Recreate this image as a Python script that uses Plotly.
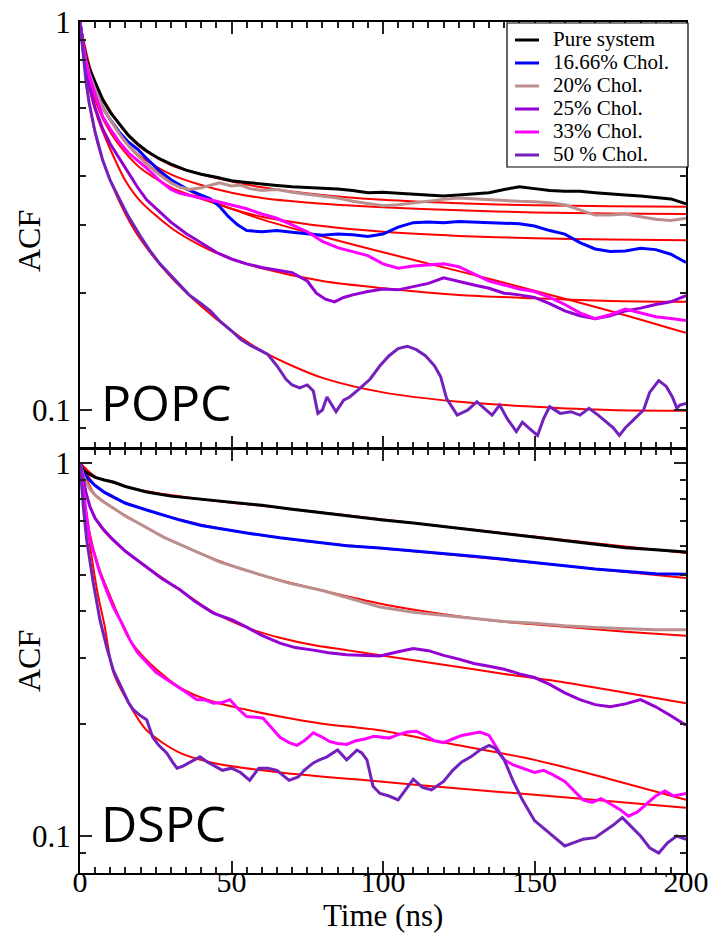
import math
import plotly.graph_objects as go

# ---------------- DATA (time in ns, ACF) ----------------
series_names = ["Pure system", "16.66% Chol.", "20% Chol.", "25% Chol.", "33% Chol.", "50 % Chol."]
series_colors = ["#000000", "#0000ff", "#bc8f8f", "#9400d3", "#ff00ff", "#7221bc"]
fit_color = "#ff0000"

x_ticks = [0, 50, 100, 150, 200]
y_ticks = [0.1, 1]
y_tick_text = ["0.1", "1"]
y_minor = [0.08, 0.09, 0.2, 0.3, 0.4, 0.5, 0.6, 0.7, 0.8, 0.9]

# POPC (top panel) data
popc_pure = [[0,1.0],[1,0.88],[2,0.81],[3,0.76],[5,0.70],[7.5,0.63],[10,0.585],[13,0.545],[16,0.51],[19,0.485],[22,0.465],[26,0.445],[30,0.43],[35,0.415],[40,0.405],[45,0.398],[50,0.39],[55,0.386],[60,0.382],[65,0.379],[70,0.376],[75,0.375],[80,0.373],[85,0.371],[90,0.368],[95,0.363],[100,0.364],[105,0.362],[110,0.36],[115,0.358],[120,0.356],[125,0.358],[130,0.36],[135,0.363],[140,0.37],[145,0.376],[150,0.372],[155,0.368],[160,0.366],[165,0.366],[170,0.363],[175,0.36],[180,0.358],[185,0.356],[190,0.353],[195,0.35],[200,0.34]]
popc_c16 = [[0,1.0],[1,0.87],[2,0.79],[3,0.74],[5,0.67],[7.5,0.6],[10,0.56],[13,0.52],[16,0.49],[19,0.47],[22,0.445],[26,0.415],[30,0.392],[35,0.372],[40,0.358],[43,0.35],[46,0.335],[49,0.315],[52,0.3],[55,0.29],[60,0.288],[65,0.29],[70,0.287],[75,0.285],[80,0.282],[85,0.284],[90,0.283],[95,0.28],[100,0.284],[105,0.296],[110,0.304],[115,0.305],[120,0.304],[125,0.306],[130,0.305],[135,0.303],[140,0.302],[145,0.302],[150,0.298],[155,0.29],[160,0.284],[165,0.27],[170,0.26],[175,0.256],[180,0.257],[185,0.261],[190,0.259],[195,0.252],[200,0.24]]
popc_c20 = [[0,1.0],[1,0.87],[2,0.79],[3,0.74],[5,0.67],[7.5,0.6],[10,0.56],[13,0.515],[16,0.48],[19,0.455],[22,0.43],[26,0.405],[30,0.385],[33,0.375],[36,0.37],[40,0.374],[43,0.38],[46,0.385],[50,0.378],[53,0.38],[56,0.372],[60,0.368],[65,0.37],[70,0.364],[75,0.36],[80,0.356],[85,0.352],[90,0.345],[95,0.34],[100,0.336],[105,0.338],[110,0.342],[115,0.346],[120,0.349],[125,0.352],[130,0.35],[135,0.348],[140,0.346],[145,0.345],[150,0.344],[155,0.342],[160,0.338],[165,0.328],[170,0.318],[175,0.318],[180,0.32],[185,0.315],[190,0.31],[195,0.308],[200,0.312]]
popc_c25 = [[0,1.0],[1,0.85],[2,0.76],[3,0.69],[5,0.6],[7.5,0.53],[10,0.485],[13,0.445],[16,0.41],[19,0.375],[22,0.348],[26,0.325],[30,0.305],[35,0.285],[40,0.27],[45,0.255],[50,0.245],[55,0.238],[60,0.233],[65,0.229],[70,0.226],[75,0.215],[78,0.2],[81,0.193],[84,0.19],[87,0.195],[90,0.198],[95,0.202],[100,0.205],[105,0.204],[110,0.208],[115,0.212],[120,0.219],[125,0.214],[130,0.21],[135,0.206],[140,0.2],[145,0.198],[150,0.195],[155,0.188],[160,0.18],[165,0.175],[170,0.172],[175,0.175],[180,0.18],[185,0.183],[190,0.187],[195,0.19],[200,0.197]]
popc_c33 = [[0,1.0],[1,0.87],[2,0.79],[3,0.73],[5,0.65],[7.5,0.57],[10,0.53],[13,0.49],[16,0.46],[19,0.44],[22,0.42],[26,0.392],[30,0.37],[33,0.362],[36,0.357],[40,0.352],[45,0.345],[50,0.338],[55,0.33],[60,0.32],[65,0.312],[70,0.3],[75,0.288],[80,0.272],[85,0.262],[90,0.256],[95,0.25],[100,0.238],[105,0.232],[110,0.235],[115,0.236],[120,0.238],[125,0.234],[130,0.224],[135,0.215],[140,0.21],[145,0.205],[150,0.202],[155,0.195],[160,0.187],[165,0.178],[170,0.172],[175,0.176],[180,0.182],[185,0.178],[190,0.174],[195,0.172],[200,0.17]]
popc_c50 = [[0,1.0],[1,0.82],[2,0.7],[3,0.62],[5,0.52],[7.5,0.44],[10,0.39],[13,0.35],[16,0.315],[20,0.28],[23,0.258],[26,0.24],[30,0.222],[33,0.21],[36,0.198],[40,0.188],[43,0.18],[46,0.17],[50,0.16],[53,0.152],[56,0.147],[59,0.143],[62,0.139],[65,0.13],[68,0.12],[70,0.116],[72.5,0.114],[75,0.116],[77,0.112],[78.5,0.098],[80,0.1],[81.5,0.108],[83,0.103],[84.5,0.099],[87,0.106],[89,0.108],[92,0.113],[95.7,0.12],[99,0.13],[102,0.138],[105,0.144],[108,0.146],[111,0.143],[114,0.138],[117,0.13],[119,0.122],[121,0.107],[124.5,0.097],[128,0.1],[131,0.105],[134,0.1],[136,0.097],[138.5,0.103],[141,0.095],[144,0.088],[146,0.093],[148,0.09],[151,0.086],[153,0.095],[155,0.102],[158.5,0.098],[162,0.099],[165,0.097],[168,0.101],[171,0.097],[174,0.093],[176,0.09],[178,0.086],[180,0.09],[182.5,0.094],[186,0.1],[188,0.111],[191,0.119],[193.5,0.115],[195.5,0.108],[197,0.101],[198,0.103],[200,0.104]]

# POPC fits
popc_fit_pure = [[0,1.0],[3,0.78],[6,0.67],[10,0.59],[15,0.52],[20,0.475],[30,0.428],[40,0.405],[50,0.388],[60,0.375],[80,0.358],[100,0.348],[125,0.341],[150,0.337],[175,0.335],[200,0.334]]
popc_fit_c16 = [[0,1.0],[3,0.75],[6,0.64],[10,0.56],[15,0.49],[20,0.445],[30,0.39],[40,0.355],[50,0.33],[60,0.315],[80,0.298],[100,0.288],[125,0.281],[150,0.277],[175,0.275],[200,0.274]]
popc_fit_c20 = [[0,1.0],[3,0.75],[6,0.64],[10,0.56],[15,0.49],[20,0.45],[30,0.405],[40,0.38],[50,0.363],[60,0.352],[80,0.34],[100,0.333],[125,0.327],[150,0.323],[175,0.321],[200,0.32]]
popc_fit_c25 = [[0,1.0],[3,0.68],[6,0.56],[10,0.47],[15,0.39],[20,0.345],[30,0.295],[40,0.265],[50,0.245],[60,0.232],[80,0.215],[100,0.206],[125,0.198],[150,0.194],[175,0.191],[200,0.19]]
popc_fit_c33 = [[0,1.0],[3,0.72],[6,0.6],[10,0.52],[15,0.46],[20,0.42],[30,0.375],[40,0.35],[50,0.33],[60,0.31],[80,0.28],[100,0.255],[125,0.228],[150,0.203],[175,0.18],[200,0.158]]
popc_fit_c50 = [[0,1.0],[3,0.62],[6,0.48],[10,0.39],[15,0.32],[20,0.275],[30,0.22],[40,0.185],[50,0.16],[60,0.142],[70,0.13],[80,0.121],[100,0.111],[125,0.105],[150,0.102],[175,0.1],[200,0.0995]]

# DSPC (bottom panel) data
dspc_pure = [[0,1.0],[1,0.96],[2,0.945],[3,0.935],[5,0.915],[8,0.9],[11,0.889],[15,0.865],[22,0.836],[30,0.815],[40,0.8],[50,0.785],[60,0.77],[70,0.752],[80,0.735],[90,0.718],[100,0.703],[110,0.69],[120,0.675],[130,0.66],[140,0.645],[150,0.633],[160,0.62],[170,0.605],[180,0.593],[190,0.585],[200,0.577]]
dspc_c16 = [[0,1.0],[1,0.94],[2,0.92],[3.3,0.9],[5,0.87],[8,0.835],[11,0.811],[15,0.78],[22,0.748],[28,0.722],[33,0.703],[40,0.68],[47,0.665],[55,0.649],[66,0.63],[77,0.614],[88,0.6],[99,0.592],[110,0.582],[120,0.572],[130,0.562],[140,0.552],[150,0.54],[160,0.53],[170,0.52],[180,0.512],[190,0.505],[200,0.503]]
dspc_c20 = [[0,1.0],[1,0.93],[2,0.89],[3.3,0.85],[5,0.82],[8,0.785],[11,0.757],[15,0.72],[20,0.685],[27.5,0.633],[35,0.595],[46,0.543],[55,0.515],[68.6,0.477],[80,0.455],[90,0.432],[99,0.411],[110,0.398],[120,0.39],[130,0.382],[140,0.376],[150,0.372],[160,0.366],[170,0.362],[180,0.36],[190,0.357],[200,0.357]]
dspc_c25 = [[0,1.0],[1,0.9],[2,0.83],[3.3,0.762],[5,0.71],[8,0.66],[11,0.622],[15,0.58],[22,0.526],[27,0.49],[33,0.457],[38,0.425],[44,0.396],[50,0.38],[55,0.363],[60,0.345],[66,0.329],[71,0.32],[77,0.315],[82,0.31],[88,0.306],[93,0.305],[99,0.304],[105,0.312],[110,0.318],[115,0.314],[120,0.305],[125,0.298],[130,0.29],[135,0.285],[140,0.28],[145,0.272],[150,0.266],[155,0.255],[160,0.242],[165,0.232],[170,0.225],[175,0.222],[180,0.226],[185,0.232],[190,0.222],[195,0.21],[200,0.198]]
dspc_c33 = [[0,1.0],[1,0.85],[2,0.74],[3.3,0.622],[5,0.56],[6.6,0.507],[9,0.45],[11,0.411],[14,0.37],[16.5,0.335],[19,0.31],[22,0.291],[25,0.275],[27.4,0.267],[30,0.258],[33,0.249],[36,0.24],[38.6,0.232],[41,0.232],[44,0.227],[47,0.228],[49.5,0.232],[52,0.22],[55,0.209],[58,0.208],[60.4,0.207],[63,0.196],[66,0.184],[69,0.178],[71.6,0.175],[74,0.18],[77,0.189],[80,0.184],[82.5,0.179],[85,0.177],[88,0.176],[91,0.18],[94,0.182],[97,0.185],[99,0.184],[102,0.183],[105,0.187],[108,0.19],[111,0.191],[114,0.186],[117,0.18],[120,0.178],[123,0.182],[126,0.186],[129,0.188],[132,0.19],[135,0.186],[138,0.17],[140,0.16],[143,0.155],[146,0.152],[150,0.148],[153,0.15],[156,0.146],[160,0.14],[163,0.132],[166,0.125],[169,0.123],[172,0.126],[175,0.122],[178,0.118],[181,0.113],[184,0.116],[187,0.122],[190,0.128],[193,0.132],[196,0.128],[200,0.13]]
dspc_c50 = [[0,1.0],[1.1,0.762],[2.2,0.622],[3.3,0.54],[4.4,0.477],[6.6,0.379],[8.8,0.321],[11,0.278],[12.7,0.26],[14.3,0.242],[16,0.228],[17.6,0.218],[20,0.21],[22,0.205],[24,0.184],[26,0.175],[28.6,0.167],[30.5,0.158],[32,0.152],[34,0.154],[36,0.157],[39.6,0.163],[42,0.158],[44,0.155],[47,0.15],[50,0.152],[53,0.148],[56,0.141],[59,0.152],[62,0.152],[65,0.15],[69,0.141],[72,0.144],[74,0.15],[77,0.157],[79,0.16],[81.5,0.163],[85,0.17],[88,0.16],[91.4,0.17],[93,0.167],[94.7,0.16],[96.7,0.136],[99,0.13],[102,0.128],[105,0.125],[108,0.135],[110,0.142],[113,0.135],[116,0.133],[120,0.14],[123,0.15],[126,0.158],[129,0.163],[132,0.17],[135,0.175],[137,0.172],[140,0.16],[143,0.14],[146,0.125],[150,0.11],[153,0.105],[156,0.1],[160,0.094],[163,0.096],[166,0.098],[170,0.099],[173,0.103],[176,0.107],[179,0.112],[182,0.106],[185,0.1],[188,0.093],[191,0.09],[194,0.096],[197,0.1],[200,0.098]]

# DSPC fits
dspc_fit_pure = [[0,1.0],[5,0.92],[10,0.89],[20,0.845],[40,0.8],[60,0.768],[80,0.737],[100,0.705],[120,0.676],[140,0.648],[160,0.622],[180,0.597],[200,0.574]]
dspc_fit_c16 = [[0,1.0],[5,0.87],[10,0.815],[20,0.757],[30,0.715],[40,0.683],[60,0.64],[80,0.61],[100,0.59],[120,0.57],[140,0.55],[160,0.53],[180,0.51],[200,0.492]]
dspc_fit_c20 = [[0,1.0],[5,0.82],[10,0.765],[20,0.685],[30,0.62],[45,0.55],[60,0.5],[80,0.455],[100,0.418],[120,0.393],[140,0.375],[160,0.364],[180,0.353],[200,0.344]]
dspc_fit_c25 = [[0,1.0],[3,0.78],[6,0.69],[10,0.63],[15,0.58],[22,0.526],[33,0.457],[44,0.398],[55,0.362],[66,0.34],[77,0.325],[88,0.315],[99,0.305],[120,0.288],[140,0.272],[160,0.258],[180,0.242],[200,0.227]]
dspc_fit_c33 = [[0,1.0],[3,0.66],[6,0.53],[11,0.42],[16,0.34],[22,0.296],[33,0.25],[44,0.229],[55,0.218],[66,0.209],[80,0.2],[99,0.192],[120,0.178],[150,0.16],[175,0.142],[200,0.125]]
dspc_fit_c50 = [[0,1.0],[2,0.72],[4,0.55],[6,0.44],[8,0.37],[11,0.275],[15,0.235],[22,0.192],[33,0.167],[44,0.157],[66,0.148],[99,0.14],[125,0.134],[150,0.129],[175,0.124],[200,0.119]]

popc_data = [popc_pure, popc_c16, popc_c20, popc_c25, popc_c33, popc_c50]
popc_fits = [popc_fit_pure, popc_fit_c16, popc_fit_c20, popc_fit_c25, popc_fit_c33, popc_fit_c50]
dspc_data = [dspc_pure, dspc_c16, dspc_c20, dspc_c25, dspc_c33, dspc_c50]
dspc_fits = [dspc_fit_pure, dspc_fit_c16, dspc_fit_c20, dspc_fit_c25, dspc_fit_c33, dspc_fit_c50]

# ---------------- FIGURE ----------------
SERIF = "Liberation Serif"
fig = go.Figure()

def add_fits(fits, xa, ya):
    for f in fits:
        fig.add_trace(go.Scatter(
            x=[p[0] for p in f], y=[p[1] for p in f], mode="lines",
            line=dict(color=fit_color, width=2, shape="spline", smoothing=0.8),
            xaxis=xa, yaxis=ya, showlegend=False, hoverinfo="skip"))

def add_data(data, xa, ya):
    for name, col, d in zip(series_names, series_colors, data):
        fig.add_trace(go.Scatter(
            x=[p[0] for p in d], y=[p[1] for p in d], mode="lines", name=name,
            line=dict(color=col, width=3),
            xaxis=xa, yaxis=ya, showlegend=False))

add_fits(popc_fits, "x", "y")
add_data(popc_data, "x", "y")
add_fits(dspc_fits, "x2", "y2")
add_data(dspc_data, "x2", "y2")

W, H = 711, 933
ML, MR, MT, MB = 80, 25, 22, 60
ph = H - MT - MB
pw = W - ML - MR

def py(pix):
    return (H - MB - pix) / ph

def px(pix):
    return (pix - ML) / pw

xcommon = dict(range=[0, 200], showline=True, linecolor="black", linewidth=2,
               mirror="ticks", ticks="inside", ticklen=12, tickwidth=1.5, tickcolor="#222",
               tickvals=x_ticks, showgrid=False, zeroline=False, automargin=False,
               minor=dict(ticks="inside", ticklen=6, tickwidth=1.5, tickcolor="#222",
                          tickmode="linear", tick0=0, dtick=5, showgrid=False),
               tickfont=dict(family=SERIF, size=30, color="black"))
ycommon = dict(type="log", showline=True, linecolor="black", linewidth=2,
               mirror="ticks", ticks="inside", ticklen=12, tickwidth=1.5, tickcolor="#222",
               tickvals=y_ticks, ticktext=y_tick_text, showgrid=False, zeroline=False,
               automargin=False,
               minor=dict(ticks="inside", ticklen=6, tickwidth=1.5, tickcolor="#222",
                          tickmode="array", tickvals=y_minor, showgrid=False),
               tickfont=dict(family=SERIF, size=31, color="black"), ticklabelstandoff=1)

# legend drawn as a framed box with line samples and real text
leg_left, leg_right, leg_top, leg_bottom = 507, 688, 23, 167
leg_rows = [39, 62, 85, 108, 131, 154]
shapes = [dict(type="rect", xref="paper", yref="paper",
               x0=px(leg_left), x1=px(leg_right), y0=py(leg_bottom), y1=py(leg_top),
               line=dict(color="black", width=1.2), fillcolor="white", layer="above")]
annotations = []
for name, col, ry in zip(series_names, series_colors, leg_rows):
    shapes.append(dict(type="line", xref="paper", yref="paper",
                       x0=px(515), x1=px(539), y0=py(ry + 1), y1=py(ry + 1),
                       line=dict(color=col, width=3), layer="above"))
    annotations.append(dict(text=name, xref="paper", yref="paper", x=px(551), y=py(ry),
                            xanchor="left", yanchor="middle", showarrow=False,
                            font=dict(family=SERIF, size=21, color="black")))

annotations += [
    dict(text="ACF", xref="paper", yref="paper", x=px(29), y=py(241), textangle=-90,
         showarrow=False, font=dict(family=SERIF, size=32, color="black"),
         xanchor="center", yanchor="middle"),
    dict(text="ACF", xref="paper", yref="paper", x=px(29), y=py(661), textangle=-90,
         showarrow=False, font=dict(family=SERIF, size=32, color="black"),
         xanchor="center", yanchor="middle"),
    dict(text="Time (ns)", xref="paper", yref="paper", x=px(383), y=py(916),
         showarrow=False, font=dict(family=SERIF, size=31, color="black"),
         xanchor="center", yanchor="middle"),
    dict(text="POPC", xref="paper", yref="paper", x=px(99), y=py(402),
         showarrow=False, font=dict(family="Open Sans", size=50, color="black"),
         xanchor="left", yanchor="middle"),
    dict(text="DSPC", xref="paper", yref="paper", x=px(99), y=py(823),
         showarrow=False, font=dict(family="Open Sans", size=50, color="black"),
         xanchor="left", yanchor="middle"),
]

fig.update_layout(
    width=W, height=H,
    margin=dict(l=ML, r=MR, t=MT, b=MB, autoexpand=False),
    paper_bgcolor="white", plot_bgcolor="white",
    xaxis=dict(xcommon, domain=[0, 1], anchor="y", showticklabels=False),
    yaxis=dict(ycommon, domain=[py(448), 1], anchor="x", range=[math.log10(0.0798), 0]),
    xaxis2=dict(xcommon, domain=[0, 1], anchor="y2", showticklabels=True, ticklabelstandoff=-19),
    yaxis2=dict(ycommon, domain=[0, py(449)], anchor="x2", range=[-1.0992, 0.0375]),
    showlegend=False,
    shapes=shapes,
    annotations=annotations,
)

fig.write_html("out.html")
